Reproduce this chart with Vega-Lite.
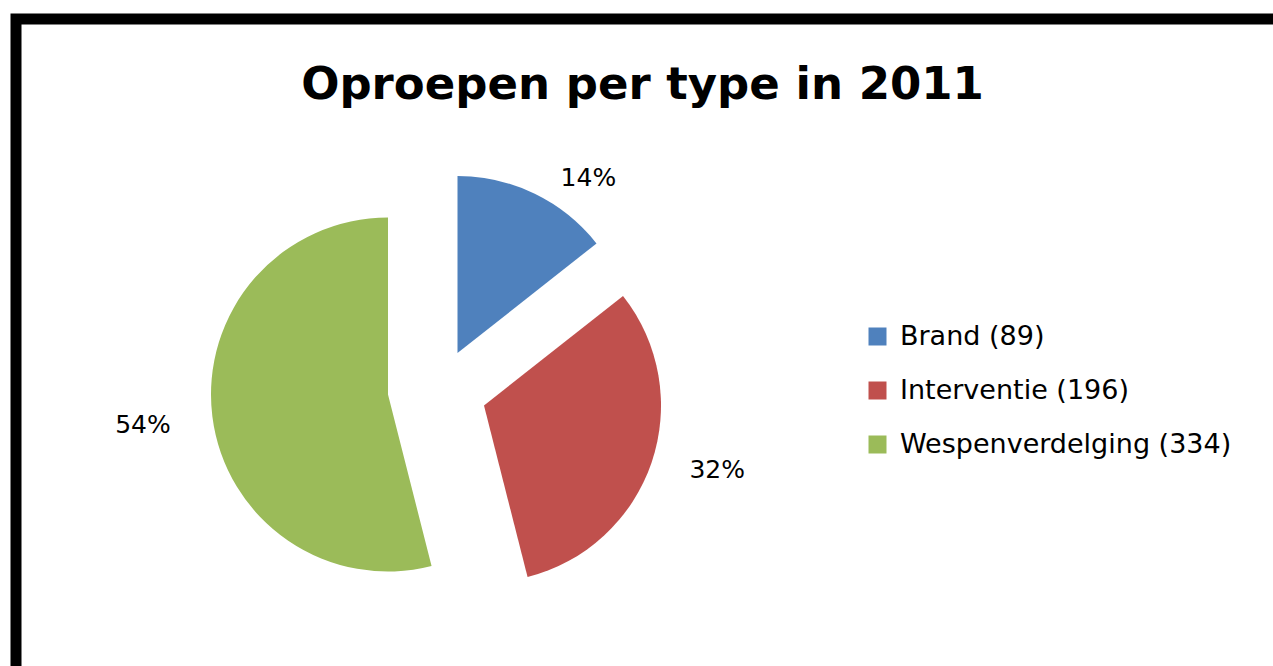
{
  "$schema": "https://vega.github.io/schema/vega-lite/v6.json",
  "autosize": "none",
  "width": 1265,
  "height": 655,
  "padding": {"left": 16, "top": 19, "right": -8, "bottom": -8},
  "background": "white",
  "view": {"stroke": "black", "strokeWidth": 11, "fill": "white"},
  "config": {
    "view": {"stroke": "black", "strokeWidth": 11, "fill": "white"},
    "font": "DejaVu Sans"
  },
  "title": {
    "text": "Oproepen per type in 2011",
    "font": "DejaVu Sans",
    "fontSize": 45,
    "fontWeight": "bold",
    "color": "black",
    "anchor": "middle",
    "frame": "group",
    "orient": "top",
    "offset": -89,
    "dx": -6
  },
  "data": {
    "values": [
      {"type": "Brand (89)", "count": 89, "label": "14%"},
      {"type": "Interventie (196)", "count": 196, "label": "32%"},
      {"type": "Wespenverdelging (334)", "count": 334, "label": "54%"}
    ]
  },
  "encoding": {
    "theta": {"field": "count", "type": "quantitative", "stack": true},
    "color": {
      "field": "type",
      "type": "nominal",
      "scale": {
        "domain": ["Brand (89)", "Interventie (196)", "Wespenverdelging (334)"],
        "range": ["#4F81BD", "#C0504D", "#9BBB59"]
      },
      "legend": {
        "title": null,
        "orient": "none",
        "legendX": 848,
        "legendY": 304,
        "padding": 0,
        "symbolType": "square",
        "symbolSize": 324,
        "symbolStrokeWidth": 0,
        "labelFont": "DejaVu Sans",
        "labelFontSize": 27,
        "labelColor": "black",
        "labelOffset": 9,
        "labelLimit": 500,
        "rowPadding": 26
      }
    },
    "order": {"field": "type", "sort": "ascending"}
  },
  "layer": [
    {
      "mark": {"type": "arc", "radius": 177, "xOffset": -191, "yOffset": 6.5},
      "encoding": {"opacity": {"condition": {"test": "datum.type === 'Brand (89)'", "value": 1}, "value": 0}}
    },
    {
      "mark": {"type": "arc", "radius": 177, "xOffset": -164.5, "yOffset": 59},
      "encoding": {"opacity": {"condition": {"test": "datum.type === 'Interventie (196)'", "value": 1}, "value": 0}}
    },
    {
      "mark": {"type": "arc", "radius": 177, "xOffset": -260.5, "yOffset": 48},
      "encoding": {"opacity": {"condition": {"test": "datum.type === 'Wespenverdelging (334)'", "value": 1}, "value": 0}}
    },
    {
      "mark": {"type": "text", "radius": 215, "xOffset": -154, "yOffset": 24.5, "fontSize": 25, "font": "DejaVu Sans", "fill": "black", "align": "center", "baseline": "middle"},
      "encoding": {
        "text": {"field": "label", "type": "nominal"},
        "color": {"value": "black"},
        "opacity": {"condition": {"test": "datum.type === 'Brand (89)'", "value": 1}, "value": 0}
      }
    },
    {
      "mark": {"type": "text", "radius": 241, "xOffset": -159.5, "yOffset": 46, "fontSize": 25, "font": "DejaVu Sans", "fill": "black", "align": "center", "baseline": "middle"},
      "encoding": {
        "text": {"field": "label", "type": "nominal"},
        "color": {"value": "black"},
        "opacity": {"condition": {"test": "datum.type === 'Interventie (196)'", "value": 1}, "value": 0}
      }
    },
    {
      "mark": {"type": "text", "radius": 247, "xOffset": -260.5, "yOffset": 48, "fontSize": 25, "font": "DejaVu Sans", "fill": "black", "align": "center", "baseline": "middle"},
      "encoding": {
        "text": {"field": "label", "type": "nominal"},
        "color": {"value": "black"},
        "opacity": {"condition": {"test": "datum.type === 'Wespenverdelging (334)'", "value": 1}, "value": 0}
      }
    }
  ]
}
